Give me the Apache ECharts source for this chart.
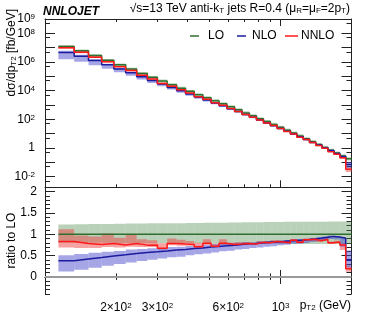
<!DOCTYPE html>
<html><head><meta charset="utf-8">
<script src="https://cdn.jsdelivr.net/npm/echarts@6/dist/echarts.min.js"></script>
<style>html,body{margin:0;padding:0;background:#fff}#c{width:374px;height:313px}</style>
</head><body><div id="c"></div>
<script>
// ---- data ----
const binEdges = [114,133,153,174,196,220,245,272,300,330,362,395,430,468,507,548,592,638,686,737,790,846,905,967,1032,1101,1172,1248,1327,1410,1497,1588,1684,1784,1890,2000];
const loXsec = [1.2e7,6.0e6,2.8e6,1.3e6,6.3e5,3.2e5,1.6e5,8.5e4,4.7e4,2.6e4,1.5e4,8.9e3,5.2e3,3.2e3,1.95e3,1.2e3,740,460,280,178,110,69,44,27.5,17.4,11.0,6.9,4.4,2.75,1.74,1.1,0.69,0.44,0.275,0.174];
const loBandLow = [0.80,0.80,0.80,0.80,0.79,0.79,0.79,0.79,0.79,0.79,0.79,0.79,0.79,0.78,0.78,0.78,0.78,0.78,0.78,0.78,0.78,0.78,0.78,0.78,0.78,0.77,0.77,0.77,0.77,0.77,0.77,0.77,0.77,0.77,0.77];
const loBandHigh = [1.23,1.235,1.24,1.24,1.245,1.25,1.25,1.255,1.255,1.26,1.26,1.265,1.265,1.27,1.27,1.27,1.275,1.275,1.28,1.28,1.28,1.285,1.285,1.285,1.29,1.29,1.29,1.29,1.295,1.295,1.295,1.30,1.30,1.30,1.30];
const nloRatio = [0.38,0.42,0.455,0.49,0.52,0.55,0.575,0.59,0.61,0.63,0.645,0.665,0.68,0.70,0.715,0.73,0.745,0.76,0.775,0.785,0.80,0.81,0.82,0.83,0.845,0.855,0.865,0.875,0.89,0.91,0.93,0.95,0.935,0.905,0.40];
const nloBandLow = [0.13,0.17,0.215,0.26,0.30,0.34,0.375,0.40,0.43,0.46,0.475,0.505,0.53,0.55,0.575,0.60,0.615,0.64,0.655,0.675,0.69,0.71,0.72,0.74,0.755,0.775,0.785,0.795,0.82,0.84,0.86,0.89,0.875,0.705,0.22];
const nloBandHigh = [0.51,0.54,0.565,0.59,0.61,0.64,0.655,0.67,0.68,0.70,0.705,0.725,0.73,0.75,0.765,0.77,0.785,0.80,0.815,0.815,0.83,0.84,0.85,0.86,0.865,0.875,0.885,0.895,0.91,0.93,0.95,0.97,0.955,0.935,0.62];
const nnloRatio = [0.83,0.785,0.76,0.785,0.75,0.785,0.745,0.75,0.67,0.785,0.77,0.76,0.71,0.79,0.72,0.79,0.76,0.77,0.785,0.77,0.81,0.80,0.83,0.82,0.80,0.86,0.81,0.87,0.88,0.85,0.88,0.80,0.82,0.75,0.19];
const nnloBandLow = [0.69,0.68,0.68,0.70,0.69,0.71,0.70,0.70,0.64,0.74,0.73,0.73,0.69,0.75,0.70,0.75,0.74,0.75,0.76,0.75,0.78,0.78,0.80,0.79,0.78,0.83,0.79,0.84,0.85,0.82,0.85,0.77,0.79,0.63,0.12];
const nnloBandHigh = [1.12,0.97,0.95,1.02,0.92,1.0,0.88,0.86,0.79,0.90,0.87,0.84,0.80,0.88,0.78,0.88,0.80,0.81,0.82,0.80,0.84,0.83,0.86,0.85,0.83,0.89,0.84,0.90,0.91,0.88,0.91,0.83,0.85,0.79,0.26];
const xMinorTicks = [200,300,400,500,600,700,800,900,2000];
const xMajorTicks = [1000];
const xLabelTicks = [200,300,600,1000];
const yDecadeTicks = [0.01,0.1,1,10,100,1e3,1e4,1e5,1e6,1e7,1e8,1e9];
const yHalfTicks = [0.005,0.05,0.5,5,50,500,5e3,5e4,5e5,5e6,5e7,5e8];
const yLabelTicks = [0.01,1,100,1e4,1e6,1e8,1e9];
const rMajorTicks = [0,0.5,1,1.5,2];
const rMinorTicks = [-0.4,-0.3,-0.2,-0.1,0.1,0.2,0.3,0.4,0.6,0.7,0.8,0.9,1.1,1.2,1.3,1.4,1.6,1.7,1.8,1.9,2.1];

// ---- build ----
const FF = 'Liberation Sans';
const nb = loXsec.length;
function stepLine(vals){ const d=[]; for(let i=0;i<nb;i++) d.push([binEdges[i],vals[i]]); d.push([binEdges[nb],vals[nb-1]]); return d; }
function bandData(base, lo, hi){ const d=[]; for(let i=0;i<nb;i++) d.push([binEdges[i],binEdges[i+1],base[i]*lo[i],base[i]*hi[i]]); return d; }
const ones = loXsec.map((v)=>v/v);
const nloXsec = loXsec.map((v,i)=>v*nloRatio[i]);
const nnloXsec = loXsec.map((v,i)=>v*nnloRatio[i]);

const AX = '#222';
function xAx(grid, pos, ticks, len, lineShow, labels){
  return {type:'log', logBase:10, gridIndex:grid, position:pos, min:100, max:2000,
    axisLine:{show:lineShow, lineStyle:{color:AX,width:1}},
    axisTick:{show:true, inside:true, length:len, customValues:ticks, lineStyle:{color:AX,width:1}},
    splitLine:{show:false}, minorTick:{show:false},
    axisLabel: labels ? {show:true, customValues:labels, margin:8, color:'#000', fontFamily:FF, fontSize:12,
      formatter:(v)=>{ const n=Math.floor(Math.log10(v)+1e-9); const m=Math.round(v/Math.pow(10,n)); return (m===1?'':m+'×')+'10{sup|'+n+'}'; },
      rich:{sup:{fontSize:8, fontFamily:FF, verticalAlign:'top', lineHeight:9}}} : {show:false}};
}
function yLog(pos, ticks, len, lineShow, labels){
  return {type:'log', logBase:10, gridIndex:0, position:pos, min:0.0018, max:1e9,
    axisLine:{show:lineShow, lineStyle:{color:AX,width:1}},
    axisTick:{show:true, inside:true, length:len, customValues:ticks, lineStyle:{color:AX,width:1}},
    splitLine:{show:false}, minorTick:{show:false},
    axisLabel: labels ? {show:true, customValues:labels, margin:10, color:'#000', fontFamily:FF, fontSize:12,
      formatter:(v)=>{ const n=Math.round(Math.log10(v)); return n===0?'1':'10{sup|'+n+'}'; },
      rich:{sup:{fontSize:8, fontFamily:FF, verticalAlign:'top', lineHeight:9}}} : {show:false}};
}
function yLin(pos, ticks, len, lineShow, labels){
  return {type:'value', gridIndex:1, position:pos, min:-0.4, max:2.1,
    axisLine:{show:lineShow, lineStyle:{color:AX,width:1}},
    axisTick:{show:true, inside:true, length:len, customValues:ticks, lineStyle:{color:AX,width:1}},
    splitLine:{show:false},
    axisLabel: labels ? {show:true, customValues:labels, margin:8, color:'#000', fontFamily:FF, fontSize:12} : {show:false}};
}
function band(xi, yi, data, color){
  return {type:'custom', xAxisIndex:xi, yAxisIndex:yi, data:data, encode:{x:[0,1], y:[2,3]}, silent:true, clip:true,
    renderItem:(params, api)=>{
      const p0 = api.coord([api.value(0), api.value(3)]);
      const p1 = api.coord([api.value(1), api.value(2)]);
      return {type:'rect', shape:{x:p0[0], y:p0[1], width:p1[0]-p0[0], height:p1[1]-p0[1]}, style:{fill:color}};
    }};
}
function line(xi, yi, data, color, w){
  return {type:'line', xAxisIndex:xi, yAxisIndex:yi, data:data, step:'end', symbol:'none', silent:true,
    lineStyle:{color:color, width:w}, z:3};
}
const C_LO='#2f6f2f', C_NLO='#1b1b9e', C_NNLO='#ff1a1a';
const B_LO='rgba(70,135,70,0.38)', B_NLO='rgba(70,70,205,0.48)', B_NNLO='rgba(240,70,70,0.5)';

const option = {
  animation:false,
  backgroundColor:'#fff',
  grid:[{left:45, top:19, width:306.5, height:168.3, outerBoundsMode:'none'},
        {left:45, top:187.3, width:306.5, height:106.7, outerBoundsMode:'none'}],
  xAxis:[
    xAx(0,'bottom',xMinorTicks,3,true,null), xAx(0,'bottom',xMajorTicks,7,false,null),
    xAx(0,'top',xMinorTicks,3,true,null), xAx(0,'top',xMajorTicks,7,false,null),
    xAx(1,'bottom',xMinorTicks,3.5,true,xLabelTicks), xAx(1,'bottom',xMajorTicks,7,false,null),
    xAx(1,'top',xMinorTicks,3,true,null), xAx(1,'top',xMajorTicks,7,false,null)
  ],
  yAxis:[
    yLog('left',yDecadeTicks,10,true,yLabelTicks), yLog('left',yHalfTicks,5,false,null),
    yLog('right',yDecadeTicks,10,true,null), yLog('right',yHalfTicks,5,false,null),
    yLin('left',rMajorTicks,10,true,rMajorTicks), yLin('left',rMinorTicks,5,false,null),
    yLin('right',rMajorTicks,10,true,null), yLin('right',rMinorTicks,5,false,null)
  ],
  series:[
    band(0,0,bandData(loXsec,loBandLow,loBandHigh),B_LO),
    band(0,0,bandData(loXsec,nnloBandLow,nnloBandHigh),B_NNLO),
    band(0,0,bandData(loXsec,nloBandLow,nloBandHigh),B_NLO),
    line(0,0,stepLine(loXsec),C_LO,1.5),
    line(0,0,stepLine(nloXsec),C_NLO,1.5),
    line(0,0,stepLine(nnloXsec),C_NNLO,1.5),
    band(4,4,bandData(ones,loBandLow,loBandHigh),B_LO),
    band(4,4,bandData(ones,nnloBandLow,nnloBandHigh),B_NNLO),
    band(4,4,bandData(ones,nloBandLow,nloBandHigh),B_NLO),
    Object.assign(line(4,4,stepLine(ones),C_LO,1.5),{markLine:{silent:true, symbol:'none', label:{show:false},
      lineStyle:{color:'#999', width:2, type:'solid'}, data:[{yAxis:0}]}}),
    line(4,4,stepLine(nloRatio),C_NLO,1.5),
    line(4,4,stepLine(nnloRatio),C_NNLO,1.5)
  ],
  graphic:[
    {type:'text', x:43, y:12, style:{text:'NNLOJET', fontFamily:FF, fontSize:12, fontWeight:'bold', fontStyle:'italic', fill:'#000', verticalAlign:'middle'}},
    {type:'text', x:350, y:9, style:{text:'√s=13 TeV anti-k{sub|T} jets R=0.4 (μ{sub|R}=μ{sub|F}=2p{sub|T})', fontFamily:FF, fontSize:12, fill:'#000', align:'right', verticalAlign:'middle',
      rich:{sub:{fontSize:8, fontFamily:FF, verticalAlign:'bottom', lineHeight:9}}}},
    {type:'line', shape:{x1:190, y1:36, x2:199, y2:36}, style:{stroke:C_LO, lineWidth:1.5}},
    {type:'text', x:208, y:36, style:{text:'LO', fontFamily:FF, fontSize:12, fill:'#000', verticalAlign:'middle'}},
    {type:'line', shape:{x1:237, y1:36, x2:246, y2:36}, style:{stroke:C_NLO, lineWidth:1.5}},
    {type:'text', x:252, y:36, style:{text:'NLO', fontFamily:FF, fontSize:12, fill:'#000', verticalAlign:'middle'}},
    {type:'line', shape:{x1:285, y1:36, x2:298, y2:36}, style:{stroke:C_NNLO, lineWidth:1.5}},
    {type:'text', x:301, y:36, style:{text:'NNLO', fontFamily:FF, fontSize:12, fill:'#000', verticalAlign:'middle'}},
    {type:'text', x:12, y:9, rotation:Math.PI/2, style:{text:'dσ/dp{sub|T2} [fb/GeV]', fontFamily:FF, fontSize:12, fill:'#000', align:'right', verticalAlign:'middle',
      rich:{sub:{fontSize:8, fontFamily:FF, verticalAlign:'bottom', lineHeight:9}}}},
    {type:'text', x:12, y:240.6, rotation:Math.PI/2, style:{text:'ratio to LO', fontFamily:FF, fontSize:12, fill:'#000', align:'center', verticalAlign:'middle'}},
    {type:'text', x:351, y:306, style:{text:'p{sub|T2} (GeV)', fontFamily:FF, fontSize:12, fill:'#000', align:'right', verticalAlign:'middle',
      rich:{sub:{fontSize:8, fontFamily:FF, verticalAlign:'bottom', lineHeight:9}}}}
  ]
};
const chart = echarts.init(document.getElementById('c'));
chart.setOption(option);
</script></body></html>
